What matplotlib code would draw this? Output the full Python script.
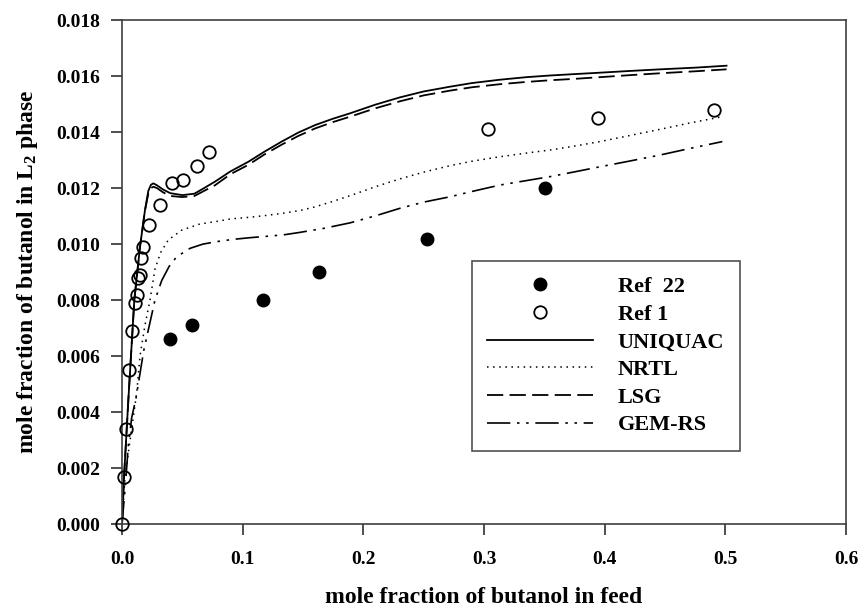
import numpy as np
import matplotlib
matplotlib.use("Agg")
import matplotlib.pyplot as plt
from matplotlib.ticker import FormatStrFormatter

# experimental points
ref22_x = [0.040, 0.058, 0.117, 0.163, 0.2525, 0.3505]
ref22_y = [0.0066, 0.0071, 0.0080, 0.0090, 0.0102, 0.0120]

ref1_x = [0.0, 0.0017, 0.0033, 0.006, 0.0086, 0.0105, 0.0124, 0.0135, 0.0145,
          0.016, 0.0171, 0.0226, 0.0315, 0.0417, 0.0503, 0.0619, 0.0718,
          0.3036, 0.3942, 0.4909]
ref1_y = [0.0, 0.0017, 0.0034, 0.0055, 0.0069, 0.0079, 0.0082, 0.0088, 0.0089,
          0.0095, 0.0099, 0.0107, 0.0114, 0.0122, 0.0123, 0.0128, 0.0133,
          0.0141, 0.0145, 0.0148]

# model curves
uniquac_x = [0.0, 0.0017, 0.0052, 0.0102, 0.0149, 0.019, 0.0218, 0.024, 0.026,
             0.029, 0.034, 0.040, 0.050, 0.060, 0.068, 0.077, 0.090, 0.1047,
             0.118, 0.1323, 0.146, 0.160, 0.175, 0.189, 0.21, 0.2304, 0.25, 0.2718,
             0.29, 0.3133, 0.335, 0.3547, 0.375, 0.396, 0.42, 0.446, 0.475, 0.501]
uniquac_y = [0.0, 0.0017, 0.0044, 0.0080, 0.0099, 0.0112, 0.0119, 0.01212, 0.01217,
             0.0121, 0.01195, 0.01182, 0.01175, 0.0118, 0.0120, 0.01223, 0.0126, 0.01294,
             0.0133, 0.01366, 0.01398, 0.01425, 0.01448, 0.01467, 0.01498, 0.01524,
             0.01545, 0.01562, 0.01575, 0.01587, 0.01596, 0.01602, 0.01607, 0.01612,
             0.01618, 0.01624, 0.0163, 0.01637]

lsg_x = [0.0, 0.0017, 0.0052, 0.0102, 0.0149, 0.019, 0.0218, 0.024, 0.026,
         0.029, 0.034, 0.040, 0.050, 0.060, 0.068, 0.077, 0.090, 0.1047,
         0.118, 0.1323, 0.146, 0.160, 0.175, 0.189, 0.21, 0.2304, 0.25, 0.2718,
         0.29, 0.3133, 0.335, 0.3547, 0.375, 0.396, 0.42, 0.446, 0.475, 0.501]
lsg_y = [0.0, 0.0017, 0.0044, 0.0080, 0.0099, 0.0112, 0.0118, 0.0120, 0.01205,
         0.0120, 0.01185, 0.01172, 0.01168, 0.01172, 0.0119, 0.0121, 0.0125, 0.01283,
         0.0132, 0.01355, 0.01386, 0.01413, 0.01436, 0.01455, 0.01485, 0.01510,
         0.01531, 0.01548, 0.0156, 0.01571, 0.01579, 0.01585, 0.0159, 0.01596,
         0.01603, 0.0161, 0.01617, 0.01624]

nrtl_x = [0.0, 0.0025, 0.008, 0.0122, 0.0149, 0.019, 0.0232, 0.0273, 0.032,
          0.0384, 0.0495, 0.0646, 0.077, 0.090, 0.106, 0.1185, 0.133, 0.1475,
          0.16, 0.175, 0.189, 0.21, 0.2304, 0.25, 0.2718, 0.29, 0.3133, 0.335,
          0.3547, 0.375, 0.396, 0.42, 0.446, 0.47, 0.4975]
nrtl_y = [0.0, 0.0017, 0.0034, 0.0047, 0.0060, 0.0071, 0.0080, 0.0091, 0.0097,
          0.01015, 0.0105, 0.01072, 0.0108, 0.0109, 0.01096, 0.01102, 0.0111, 0.0112,
          0.01133, 0.01153, 0.01173, 0.01205, 0.01233, 0.01257, 0.0128, 0.01296,
          0.01312, 0.01325, 0.01336, 0.0135, 0.01366, 0.01387, 0.0141, 0.01432,
          0.01455]

gem_x = [0.0, 0.003, 0.0052, 0.008, 0.0116, 0.018, 0.0273, 0.0329, 0.039, 0.0453,
         0.0564, 0.067, 0.0785, 0.092, 0.106, 0.12, 0.1337, 0.1475, 0.168, 0.189,
         0.21, 0.2304, 0.25, 0.2718, 0.29, 0.3133, 0.3547, 0.375, 0.396, 0.42,
         0.4458, 0.47, 0.4975]
gem_y = [0.0, 0.0015, 0.0028, 0.0038, 0.0045, 0.0062, 0.0080, 0.0087, 0.0092, 0.00955,
         0.00985, 0.01, 0.01009, 0.01017, 0.01023, 0.01028, 0.01033, 0.01042, 0.01057,
         0.01076, 0.01101, 0.01128, 0.0115, 0.01169, 0.01188, 0.01211, 0.01241,
         0.01258, 0.01276, 0.01296, 0.01318, 0.01341, 0.01366]

plt.rcParams['font.family'] = ['Liberation Serif', 'DejaVu Serif']
plt.rcParams['font.weight'] = 'bold'
plt.rcParams['mathtext.fontset'] = 'custom'
plt.rcParams['mathtext.rm'] = 'Liberation Serif:bold'
plt.rcParams['mathtext.bf'] = 'Liberation Serif:bold'
plt.rcParams['mathtext.it'] = 'Liberation Serif:bold'

fig = plt.figure(figsize=(8.61, 6.07), dpi=100)
ax = fig.add_axes([0.1417, 0.1363, 0.8409, 0.8307])

ax.plot(uniquac_x, uniquac_y, color='k', ls='-', lw=1.3, label='UNIQUAC')
ax.plot(nrtl_x, nrtl_y, color='k', ls=(0, (1, 3)), lw=1.1, label='NRTL')
ax.plot(lsg_x, lsg_y, color='k', ls=(0, (9, 3.5)), lw=1.3, label='LSG')
ax.plot(gem_x, gem_y, color='k', ls=(0, (14, 4, 1.5, 4, 1.5, 4)), lw=1.2, label='GEM-RS')

ax.plot(ref22_x, ref22_y, 'o', color='k', ms=9, ls='none', label='Ref  22', zorder=5)
ax.plot(ref1_x, ref1_y, 'o', mfc='none', mec='k', mew=1.3, ms=9, ls='none',
        label='Ref 1', zorder=5, clip_on=False)

ax.set_xlim(0, 0.6)
ax.set_ylim(0, 0.018)
ax.set_xticks(np.arange(0, 0.61, 0.1))
ax.set_yticks(np.arange(0, 0.0181, 0.002))
ax.xaxis.set_major_formatter(FormatStrFormatter('%.1f'))
ax.yaxis.set_major_formatter(FormatStrFormatter('%.3f'))
ax.tick_params(direction='out', length=8, width=1.2, labelsize=14, colors='#303030')
ax.tick_params(axis='x', pad=11, labelcolor='k')
ax.tick_params(axis='y', pad=8, labelcolor='k')
for s in ax.spines.values():
    s.set_linewidth(1.2)
    s.set_color('#404040')

ax.set_xlabel('mole fraction of butanol in feed', fontsize=17, fontweight='bold')
ax.set_ylabel(r'mole fraction of butanol in L$_\mathbf{2}$ phase', fontsize=17,
              fontweight='bold')
ax.xaxis.label.set_va('center')
ax.yaxis.label.set_va('center')
ax.xaxis.set_label_coords(0.5, -0.146)
ax.yaxis.set_label_coords(-0.131, 0.5)

h, l = ax.get_legend_handles_labels()
order = [4, 5, 0, 1, 2, 3]
leg = ax.legend([h[i] for i in order], [l[i] for i in order],
                loc='upper left', bbox_to_anchor=(0.483, 0.522),
                prop={'family': 'Liberation Serif', 'weight': 'bold', 'size': 16},
                handlelength=4.77, handletextpad=1.1, borderpad=0.7,
                labelspacing=0.32, borderaxespad=0, fancybox=False,
                framealpha=1, edgecolor='#505050')
leg.get_frame().set_linewidth(1.2)

plt.savefig('out.png', dpi=100)
